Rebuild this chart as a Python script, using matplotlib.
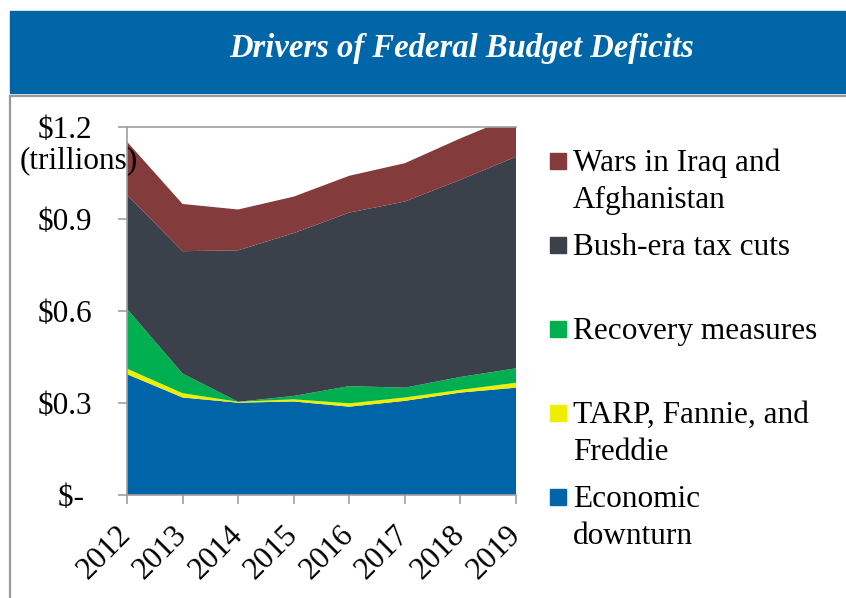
import numpy as np
import matplotlib
matplotlib.use("Agg")
import matplotlib.pyplot as plt
from matplotlib.patches import Rectangle
from matplotlib.lines import Line2D

plt.rcParams['font.family'] = ['Liberation Serif', 'DejaVu Serif']

# data (trillions of dollars)
years = [2012, 2013, 2014, 2015, 2016, 2017, 2018, 2019]
economic = [0.394, 0.318, 0.301, 0.305, 0.288, 0.307, 0.334, 0.350]
tarp = [0.018, 0.014, 0.003, 0.007, 0.011, 0.011, 0.009, 0.016]
recovery = [0.195, 0.064, 0.000, 0.011, 0.056, 0.032, 0.042, 0.047]
bush = [0.372, 0.399, 0.494, 0.531, 0.566, 0.607, 0.643, 0.690]
wars = [0.173, 0.154, 0.133, 0.119, 0.120, 0.125, 0.135, 0.135]

series_labels = ["Economic\ndownturn", "TARP, Fannie, and\nFreddie",
                 "Recovery measures", "Bush-era tax cuts",
                 "Wars in Iraq and\nAfghanistan"]
series_colors = ['#0065A8', '#EEEE00', '#00B050', '#3B414B', '#833B3B']

y_ticks = [0, 0.3, 0.6, 0.9, 1.2]
y_labels = ['$- ', '$0.3', '$0.6', '$0.9', '$1.2']

W, H = 846, 598
fig = plt.figure(figsize=(W / 100, H / 100), dpi=100)

def fx(px):
    return px / W

def fy(py):
    return 1 - py / H

# title bar
fig.patches.append(Rectangle((fx(10), fy(93)), fx(846) - fx(10), fy(11) - fy(93),
                             transform=fig.transFigure, color='#0066A8', zorder=0))
fig.text(fx(462), fy(48), "Drivers of Federal Budget Deficits", color='white',
         fontsize=23.5, fontweight='bold', fontstyle='italic', ha='center', va='center')

# frame lines
fig.lines.append(Line2D([fx(10), fx(846)], [fy(96), fy(96)], transform=fig.transFigure,
                        color='#999999', lw=1.6))
fig.lines.append(Line2D([fx(10), fx(10)], [fy(96), fy(598)], transform=fig.transFigure,
                        color='#999999', lw=1.6))

ax = fig.add_axes([fx(127), fy(495), fx(516) - fx(127), fy(127) - fy(495)])
ax.stackplot(years, economic, tarp, recovery, bush, wars, colors=series_colors, lw=0)
ax.set_xlim(years[0], years[-1])
ax.set_ylim(0, 1.2)

ax.set_yticks(y_ticks)
ax.set_yticklabels(y_labels)
ax.set_xticks(years)
ax.set_xticklabels([str(y) for y in years], rotation=45, ha='right', va='center',
                   rotation_mode='anchor')
ax.tick_params(axis='both', labelsize=22.5, color='#A0A0A0', length=6.5, width=1.2)
ax.tick_params(axis='y', pad=18.5)
ax.tick_params(axis='x', pad=19)

ax.spines['right'].set_visible(False)
for side in ['left', 'bottom', 'top']:
    ax.spines[side].set_color('#A0A0A0')
    ax.spines[side].set_linewidth(1.2)

fig.text(fx(20), fy(168), "(trillions)", fontsize=22.5, ha='left', va='baseline')

# legend, top entry first; each line drawn on its own baseline
legend_y = [161, 245, 329, 413, 497]
line_gap = 37
for i, yy in enumerate(legend_y):
    k = len(series_labels) - 1 - i
    fig.patches.append(Rectangle((fx(550), fy(yy + 8)), fx(16), fx(16) * W / H,
                                 transform=fig.transFigure, color=series_colors[k]))
    for j, line in enumerate(series_labels[k].split('\n')):
        fig.text(fx(573), fy(yy + 10 + j * line_gap), line, fontsize=22.5,
                 ha='left', va='baseline')

fig.savefig("out.png", dpi=100)
